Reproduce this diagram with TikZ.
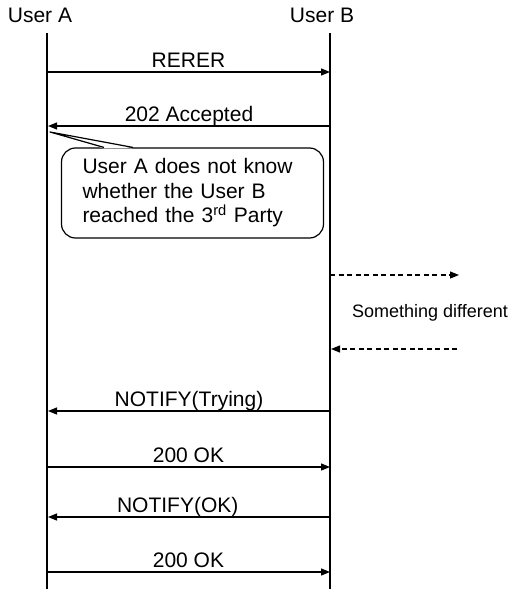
\documentclass[tikz,border=0pt]{standalone}
\usepackage{fontspec}
\setmainfont{Liberation Sans}
\usetikzlibrary{arrows.meta, calc}

\begin{document}
\begin{tikzpicture}[
            x=1pt, y=1pt,
            every node/.style={font=\fontsize{21}{24.5}\selectfont},
            lifeline/.style={
                    line width=1.2pt
                },
            msg/.style={
                    -{Triangle[length=9pt,width=7pt]},
                    line width=1.2pt
                },
            dashmsg/.style={
                    msg,
                    dash pattern=on 5pt off 3.5pt
                },
            msglabel/.style={
                    anchor=base,
                    yshift=5pt,
                    inner sep=0pt
                },
            notebox/.style={
                    draw,
                    line width=1.2pt,
                    rounded corners=14pt,
                    text width=220pt,
                    inner xsep=21pt,
                    minimum height=90pt,
                    align=left
                }
            ]

            \useasboundingbox (0,0) rectangle (510,-589);

            % Peserta
            \node (userA) [anchor=base] at (40,-23) {User A};
            \node (userB) [anchor=base] at (322,-23) {User B};

            \coordinate (aTop) at (47,-33);
            \coordinate (aEnd) at (47,-589);
            \coordinate (bTop) at (330,-33);
            \coordinate (bEnd) at (330,-589);

            \draw [lifeline] (aTop) -- (aEnd);
            \draw [lifeline] (bTop) -- (bEnd);

            % Titik pesan
            \coordinate (a1) at (47,-72);
            \coordinate (b1) at (330,-72);
            \coordinate (b2) at (330,-126);
            \coordinate (a2) at (48,-126);
            \coordinate (b3) at (330,-275);
            \coordinate (out1) at (459,-275);
            \coordinate (out2) at (457,-349);
            \coordinate (b4) at (331,-349);
            \coordinate (b5) at (330,-411);
            \coordinate (a5) at (48,-411);
            \coordinate (a6) at (47,-467);
            \coordinate (b6) at (330,-467);
            \coordinate (b7) at (330,-517);
            \coordinate (a7) at (48,-517);
            \coordinate (a8) at (47,-572);
            \coordinate (b8) at (330,-572);

            % Garis panah
            \draw [msg] (a1) -- node[msglabel] {RERER} (b1);
            \draw [msg] (b2) -- node[msglabel] {202 Accepted} (a2);
            \draw [dashmsg] (b3) -- (out1);
            \node (diff) at (430,-313) [font=\fontsize{18}{20}\selectfont] {Something different};
            \draw [dashmsg] (out2) -- (b4);
            \draw [msg] (b5) -- node[msglabel] {NOTIFY(Trying)} (a5);
            \draw [msg] (a6) -- node[msglabel] {200 OK} (b6);
            \draw [msg] (b7) -- node[msglabel, pos=0.54] {NOTIFY(OK)} (a7);
            \draw [msg] (a8) -- node[msglabel] {200 OK} (b8);

            % Catatan
            \node (note) [notebox] at (192.5,-193) {User A does not know\\whether the User B\\reached the 3\textsuperscript{rd} Party};
            \coordinate (tip) at (50,-132);
            \fill [white] ($(note.north west)+(43,-1)$) -- (tip) -- ($(note.north west)+(72,-1)$) -- cycle;
            \draw [line width=1.2pt, line join=round] ($(note.north west)+(43,0)$) -- (tip) -- ($(note.north west)+(72,0)$);

        \end{tikzpicture}
\end{document}
